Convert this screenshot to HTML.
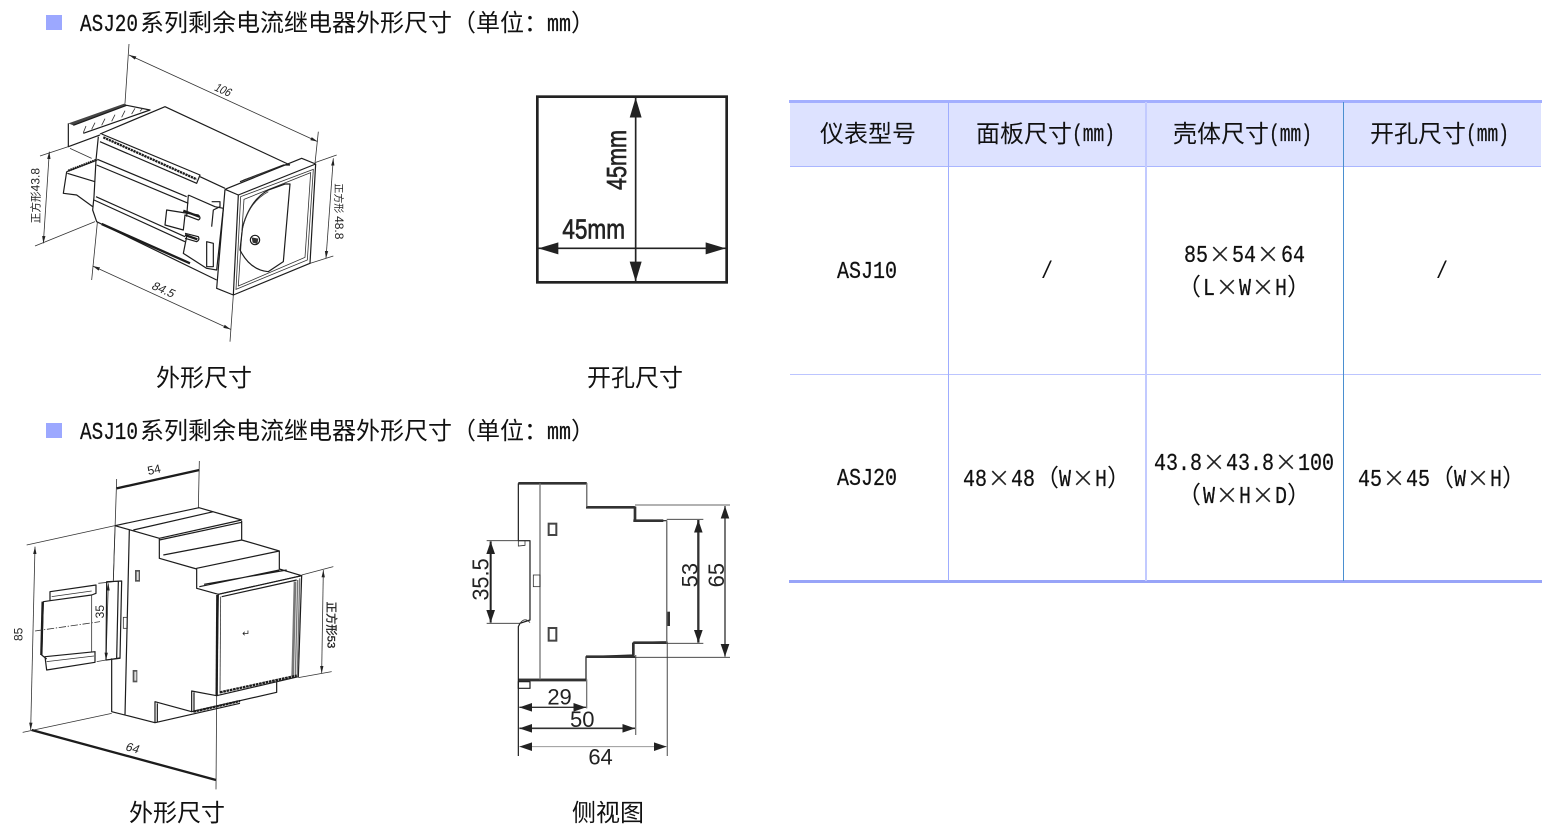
<!DOCTYPE html>
<html lang="zh"><head><meta charset="utf-8"><title>ASJ</title>
<style>
html,body{margin:0;padding:0;background:#fff;width:1546px;height:831px;overflow:hidden}
svg{display:block}
.c{font-family:"Liberation Sans","WenQuanYi Zen Hei","Noto Sans CJK SC",sans-serif;font-size:24px;fill:#111}
.m{font-family:"Liberation Mono",monospace;font-size:24px;fill:#111;stroke:#111;stroke-width:.25}
.x{font-family:"Liberation Sans",sans-serif;font-size:36px;fill:#222;text-anchor:middle;stroke:#fff;stroke-width:.9}
.d{font-family:"Liberation Sans",sans-serif;fill:#222}
.cj{font-family:"Liberation Sans","WenQuanYi Zen Hei","Noto Sans CJK SC",sans-serif;fill:#222}
.l{fill:none;stroke:#1c1c1c;stroke-width:3.6;stroke-linejoin:round}
.t{fill:none;stroke:#333;stroke-width:2.4}
.b{fill:none;stroke:#1c1c1c;stroke-width:7}
.g{fill:none;stroke:#777;stroke-width:4}
</style></head><body>
<svg width="1546" height="831" viewBox="0 0 1546 831" xmlns="http://www.w3.org/2000/svg">
<defs>
<marker id="a" markerUnits="userSpaceOnUse" markerWidth="40" markerHeight="32" refX="38" refY="16" orient="auto-start-reverse"><path d="M0 3L38 16L0 29z" fill="#222"/></marker>
<marker id="w" markerUnits="userSpaceOnUse" markerWidth="62" markerHeight="40" refX="60" refY="20" orient="auto-start-reverse"><path d="M0 2L60 20L0 38z" fill="#222"/></marker>
<marker id="s" markerUnits="userSpaceOnUse" markerWidth="24" markerHeight="12" refX="22" refY="6" orient="auto-start-reverse"><path d="M0 1L22 6L0 11z" fill="#222"/></marker>
<filter id="bl" x="-5%" y="-5%" width="110%" height="110%"><feGaussianBlur stdDeviation="0.9"/></filter>
</defs>

<!-- titles -->
<rect x="46" y="15" width="16" height="15" fill="#9ca8ff"/>
<text class="m" x="80" y="31" textLength="58" lengthAdjust="spacingAndGlyphs">ASJ20</text>
<text class="c" x="140" y="31">系列剩余电流继电器外形尺寸（单位：</text>
<text class="m" x="547" y="31" textLength="24" lengthAdjust="spacingAndGlyphs">mm</text>
<text class="c" x="571" y="31">）</text>
<rect x="46" y="423" width="16" height="15" fill="#9ca8ff"/>
<text class="m" x="80" y="439" textLength="58" lengthAdjust="spacingAndGlyphs">ASJ10</text>
<text class="c" x="140" y="439">系列剩余电流继电器外形尺寸（单位：</text>
<text class="m" x="547" y="439" textLength="24" lengthAdjust="spacingAndGlyphs">mm</text>
<text class="c" x="571" y="439">）</text>

<!-- captions -->
<text class="c" x="156" y="386">外形尺寸</text>
<text class="c" x="587" y="386">开孔尺寸</text>
<text class="c" x="129" y="821">外形尺寸</text>
<text class="c" x="572" y="821">侧视图</text>

<!-- Diagram 1 -->
<g transform="translate(20,40) scale(.33333)">
<g filter="url(#bl)">
<path class="t" d="M327 12L315 190M895 275L885 370M60 348L145 320M45 618L225 545M232 548L215 720M640 765L630 905M885 368L950 345M870 670L940 648"/>
<path class="t" d="M327 45L893 305" marker-start="url(#s)" marker-end="url(#s)"/>
<path class="t" d="M88 335L70 610" marker-start="url(#s)" marker-end="url(#s)"/>
<path class="t" d="M218 678L632 868" marker-start="url(#s)" marker-end="url(#s)"/>
<path class="t" d="M940 355L918 655" marker-start="url(#s)" marker-end="url(#s)"/>
<path class="l" d="M240 282L435 200L810 375M145 250V320L240 285"/>
<path d="M145 250L315 190L320 196L160 256Z" fill="#444"/>
<path class="l" d="M160 256L320 196L390 210L190 280"/>
<path class="t" d="M190 278L198 258M215 268L225 248M245 256L255 236M275 244L285 224M305 232L315 212M335 222L345 205M360 214L368 205"/>
<path class="l" d="M235 290L228 360L222 470L218 510L230 545L590 720M245 282L540 405L530 430L240 305"/>
<path class="b" d="M250 292L530 418" stroke-dasharray="7 2"/>
<path class="l" d="M232 358L500 470M230 375L505 490M228 470L495 590M222 480L495 605"/>
<path class="b" d="M245 552L510 670" stroke-width="5"/>
<path class="l" d="M140 395L130 460L170 465L218 500M140 395L232 360M142 400L225 425"/>
<path class="b" d="M145 392L228 360" stroke-dasharray="5 2"/>
<path class="t" d="M150 325L215 355"/>
<path class="l" d="M505 465L585 500L610 505L590 690L560 685L490 640L500 590M505 465L500 530"/>
<path class="l" d="M440 510L535 525Q545 535 535 540L495 525L490 570L435 555ZM495 580L535 590Q540 600 530 605L495 595M575 485L600 485L600 500L580 510L575 560M560 605L580 610L580 680L560 680Z"/>
<path class="b" d="M490 512L538 530M495 585L532 598" stroke-width="5"/>
<path class="l" d="M540 410L615 445M660 425L790 375L810 375"/>
<path class="t" d="M670 420L780 380"/>
<path class="l" d="M615 448L845 355L887 372L870 670L640 765L590 745L615 448M615 448L655 465L887 372M655 465L640 765"/>
<path class="t" d="M662 470L880 388L862 660L648 748ZM672 478L872 398L855 652L655 738Z"/>
<path class="l" d="M810 432L790 665L745 695Q690 690 660 630L668 560Q690 480 745 450L795 432Z"/>
<path class="t" d="M665 580Q680 490 745 455"/>
<circle class="l" cx="705" cy="600" r="14"/>
<path d="M695 592L715 596L712 612L698 608z" fill="#333"/>
<text class="d" transform="translate(580,150) rotate(24) skewX(-12)" font-size="36" textLength="50" lengthAdjust="spacingAndGlyphs">106</text>
<text class="d" transform="translate(392,745) rotate(24) skewX(-12)" font-size="36">84.5</text>
<text class="cj" transform="translate(58,550) rotate(-90)" font-size="32">正方形<tspan font-size="36">43.8</tspan></text>
<text class="cj" transform="translate(945,430) rotate(90)" font-size="30">正方形 <tspan font-size="36">48.8</tspan></text>
</g>
</g>

<!-- Cutout -->
<g transform="translate(525,85) scale(.33333)">
<g filter="url(#bl)">
<rect x="37" y="35" width="568" height="557" fill="none" stroke="#222" stroke-width="8"/>
<path d="M332 38V590" fill="none" stroke="#222" stroke-width="5" marker-start="url(#w)" marker-end="url(#w)"/>
<path d="M40 490H602" fill="none" stroke="#222" stroke-width="5" marker-start="url(#w)" marker-end="url(#w)"/>
<text class="d" x="112" y="460" font-size="84" textLength="188" lengthAdjust="spacingAndGlyphs" stroke="#222" stroke-width="2">45mm</text>
<text class="d" transform="translate(303,315) rotate(-90)" font-size="84" textLength="180" lengthAdjust="spacingAndGlyphs" stroke="#222" stroke-width="2">45mm</text>
</g>
</g>

<!-- Diagram 2 -->
<g transform="translate(0,455) scale(.33333)">
<g filter="url(#bl)">
<path class="t" d="M350 72L340 375M598 18L595 160M80 270L345 212M68 832L335 775M650 722L648 1003M905 360L1000 335M895 668L995 650M295 385L360 378M290 620L360 608"/>
<path class="b" d="M350 100L598 45" stroke-width="4"/>
<path class="t" d="M105 275L92 825" marker-start="url(#s)" marker-end="url(#s)"/>
<path class="t" d="M970 345L965 655" marker-start="url(#s)" marker-end="url(#s)"/>
<path class="t" d="M325 385L318 615" marker-start="url(#s)" marker-end="url(#s)"/>
<path class="b" d="M95 825L648 975" stroke-width="3.5"/>
<path class="l" d="M345 212L597 158L725 195L478 250L345 212M400 225L640 170M478 255L725 202M478 250V310L590 342M725 198V255L838 288L590 340V400L655 418M838 288V342L905 362L655 418M490 300L725 255M612 388L860 345M598 395L838 345"/>
<path class="l" d="M655 418L905 362L895 665L650 722ZM665 425L890 375"/>
<path class="b" d="M652 420L650 722" stroke-width="6"/>
<path class="t" d="M662 425L660 715"/>
<path class="g" d="M887 380L880 665M893 375L886 665M899 370L892 665M883 380L876 665" stroke-width="3.5"/>
<path class="l" d="M388 225L375 780M335 610V770L465 803L720 745M650 722L575 708V770M465 803V740L575 770L830 712V680M472 800V745M582 770V712"/>
<path class="b" d="M660 712L890 662M580 770L720 738" stroke-width="5" stroke-dasharray="8 2"/>
<path class="t" d="M345 215L340 378"/>
<path class="l" d="M150 410L288 390V415L275 420L150 437ZM150 437L130 440L125 600L140 612M135 605L285 590V622L140 645Z"/>
<path class="t" d="M155 425L275 408M140 620L282 603M275 420V590"/>
<path class="b" d="M128 440L124 600" stroke-width="5"/>
<path class="t" d="M105 528L300 500" stroke-dasharray="22 5 4 5"/>
<path class="l" d="M320 380L365 378L360 610L318 615ZM355 380L350 610"/>
<rect x="405" y="345" width="15" height="35" fill="#555"/><rect x="410" y="350" width="6" height="25" fill="#ddd"/>
<rect x="398" y="645" width="14" height="37" fill="#555"/><rect x="403" y="650" width="6" height="27" fill="#ddd"/>
<rect class="t" x="370" y="487" width="12" height="33"/>
<text class="d" x="738" y="545" font-size="28" text-anchor="middle">↵</text>
<text class="d" transform="translate(445,60) rotate(-12)" font-size="36">54</text>
<text class="d" transform="translate(374,885) rotate(15) skewX(-10)" font-size="36">64</text>
<text class="d" transform="translate(68,558) rotate(-90)" font-size="36">85</text>
<text class="d" transform="translate(312,490) rotate(-90)" font-size="36">35</text>
<text class="cj" transform="translate(982,440) rotate(90)" font-size="34" stroke="#222" stroke-width="1">正方形53</text>
</g>
</g>

<!-- Diagram 3 -->
<g transform="translate(460,470) scale(.33333)">
<g filter="url(#bl)">
<path class="l" d="M175 40H380V110H525V152H620V515L520 518V555L378 560V628H175"/>
<path fill="none" stroke="#333" stroke-width="8" d="M175 40H380M378 112H522M520 152H610M520 518H620M378 560H525M175 630H380M525 110V152M520 518V555"/>
<path class="g" d="M240 40V628" stroke="#555"/>
<path class="l" d="M175 40V212H210V450L180 460L175 470V858"/>
<path class="t" d="M175 212V228L195 226L195 212M180 460Q195 440 210 458"/>
<path class="l" d="M175 635H210V655H175Z" stroke-width="5"/>
<path class="g" d="M380 628V715M527 555V795M622 515V858M380 40V110M620 152V515"/>
<path fill="#333" d="M622 425h8v43h-8z"/>
<rect class="g" x="266" y="161" width="23" height="34" style="stroke:#444;stroke-width:6"/>
<rect class="g" x="266" y="474" width="23" height="38" style="stroke:#444;stroke-width:6"/>
<rect class="t" x="220" y="315" width="20" height="35"/>
<path class="t" d="M80 212H210M80 460H180M525 105H810M525 562H810M620 148H730M620 520H730"/>
<path d="M92 214V458" fill="none" stroke="#222" stroke-width="6" marker-start="url(#a)" marker-end="url(#a)"/>
<path d="M795 108V560" fill="none" stroke="#333" stroke-width="4" marker-start="url(#a)" marker-end="url(#a)"/>
<path d="M715 150V518" fill="none" stroke="#333" stroke-width="7" marker-start="url(#a)" marker-end="url(#a)"/>
<path d="M178 712H378" fill="none" stroke="#333" stroke-width="4" marker-start="url(#a)" marker-end="url(#a)"/>
<path d="M178 775H525" fill="none" stroke="#333" stroke-width="5" marker-start="url(#a)" marker-end="url(#a)"/>
<path d="M178 830H620" fill="none" stroke="#999" stroke-width="3" marker-start="url(#a)" marker-end="url(#a)"/>
<text class="d" x="262" y="703" font-size="66" fill="#333">29</text>
<text class="d" x="330" y="771" font-size="66" fill="#333">50</text>
<text class="d" x="385" y="884" font-size="66" fill="#444">64</text>
<text class="d" transform="translate(85,392) rotate(-90)" font-size="70" textLength="127" lengthAdjust="spacingAndGlyphs">35.5</text>
<text class="d" transform="translate(712,352) rotate(-90)" font-size="66" fill="#444">53</text>
<text class="d" transform="translate(792,352) rotate(-90)" font-size="66" fill="#444">65</text>
</g>
</g>

<!-- Table -->
<rect x="790" y="102" width="751" height="64" fill="#dde2ff"/>
<rect x="789" y="100" width="753" height="3" fill="#a3afff"/>
<rect x="790" y="166" width="751" height="1" fill="#aab6ff"/>
<rect x="790" y="374" width="751" height="1" fill="#bcc5ff"/>
<rect x="789" y="580" width="753" height="3" fill="#98a4f8"/>
<rect x="948" y="102" width="1" height="479" fill="#9fadff"/>
<rect x="1145" y="102" width="2" height="479" fill="#c2caff"/>
<rect x="1343" y="102" width="1" height="479" fill="#4a8fd0"/>

<text class="c" x="820" y="142">仪表型号</text>
<text class="c" x="976" y="142">面板尺寸</text>
<text class="m" x="1072" y="141" textLength="43" lengthAdjust="spacingAndGlyphs">(mm)</text>
<text class="c" x="1173" y="142">壳体尺寸</text>
<text class="m" x="1269" y="141" textLength="43" lengthAdjust="spacingAndGlyphs">(mm)</text>
<text class="c" x="1370" y="142">开孔尺寸</text>
<text class="m" x="1466" y="141" textLength="43" lengthAdjust="spacingAndGlyphs">(mm)</text>

<text class="m" x="837" y="278" textLength="60" lengthAdjust="spacingAndGlyphs">ASJ10</text>
<text class="m" x="837" y="485" textLength="60" lengthAdjust="spacingAndGlyphs">ASJ20</text>
<text class="m" x="1041" y="278" textLength="12" lengthAdjust="spacingAndGlyphs" style="stroke:none">/</text>
<text class="m" x="1436" y="278" textLength="12" lengthAdjust="spacingAndGlyphs" style="stroke:none">/</text>

<!-- row 1 col 3 -->
<text class="m" x="1184" y="262" textLength="24" lengthAdjust="spacingAndGlyphs">85</text>
<text class="x" x="1220" y="266">×</text>
<text class="m" x="1232" y="262" textLength="24" lengthAdjust="spacingAndGlyphs">54</text>
<text class="x" x="1268" y="266">×</text>
<text class="m" x="1281" y="262" textLength="24" lengthAdjust="spacingAndGlyphs">64</text>
<text class="c" x="1177" y="295">（</text>
<text class="m" x="1203" y="295" textLength="12" lengthAdjust="spacingAndGlyphs">L</text>
<text class="x" x="1227" y="299">×</text>
<text class="m" x="1239" y="295" textLength="12" lengthAdjust="spacingAndGlyphs">W</text>
<text class="x" x="1263" y="299">×</text>
<text class="m" x="1275" y="295" textLength="12" lengthAdjust="spacingAndGlyphs">H</text>
<text class="c" x="1287" y="295">）</text>

<!-- row 2 col 2 -->
<text class="m" x="963" y="486" textLength="24" lengthAdjust="spacingAndGlyphs">48</text>
<text class="x" x="999" y="490">×</text>
<text class="m" x="1011" y="486" textLength="24" lengthAdjust="spacingAndGlyphs">48</text>
<text class="c" x="1035" y="486">（</text>
<text class="m" x="1059" y="486" textLength="12" lengthAdjust="spacingAndGlyphs">W</text>
<text class="x" x="1083" y="490">×</text>
<text class="m" x="1095" y="486" textLength="12" lengthAdjust="spacingAndGlyphs">H</text>
<text class="c" x="1107" y="486">）</text>

<!-- row 2 col 3 -->
<text class="m" x="1154" y="470" textLength="48" lengthAdjust="spacingAndGlyphs">43.8</text>
<text class="x" x="1214" y="474">×</text>
<text class="m" x="1226" y="470" textLength="48" lengthAdjust="spacingAndGlyphs">43.8</text>
<text class="x" x="1286" y="474">×</text>
<text class="m" x="1298" y="470" textLength="36" lengthAdjust="spacingAndGlyphs">100</text>
<text class="c" x="1177" y="503">（</text>
<text class="m" x="1203" y="503" textLength="12" lengthAdjust="spacingAndGlyphs">W</text>
<text class="x" x="1227" y="507">×</text>
<text class="m" x="1239" y="503" textLength="12" lengthAdjust="spacingAndGlyphs">H</text>
<text class="x" x="1263" y="507">×</text>
<text class="m" x="1275" y="503" textLength="12" lengthAdjust="spacingAndGlyphs">D</text>
<text class="c" x="1287" y="503">）</text>

<!-- row 2 col 4 -->
<text class="m" x="1358" y="486" textLength="24" lengthAdjust="spacingAndGlyphs">45</text>
<text class="x" x="1394" y="490">×</text>
<text class="m" x="1406" y="486" textLength="24" lengthAdjust="spacingAndGlyphs">45</text>
<text class="c" x="1430" y="486">（</text>
<text class="m" x="1454" y="486" textLength="12" lengthAdjust="spacingAndGlyphs">W</text>
<text class="x" x="1478" y="490">×</text>
<text class="m" x="1490" y="486" textLength="12" lengthAdjust="spacingAndGlyphs">H</text>
<text class="c" x="1502" y="486">）</text>
</svg>
</body></html>
